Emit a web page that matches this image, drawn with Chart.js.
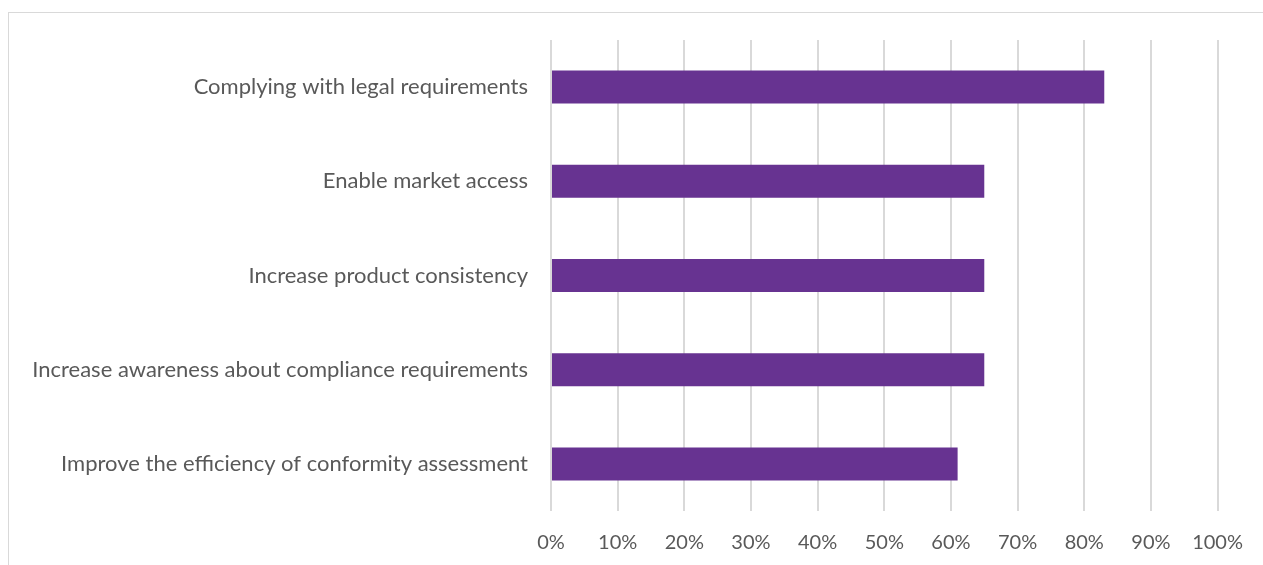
<!DOCTYPE html>
<html>
<head>
<meta charset="utf-8">
<script src="https://cdn.jsdelivr.net/npm/chart.js@4"></script>
<style>
  html, body { margin: 0; padding: 0; background: #fff; }
  #wrap { position: relative; width: 1263px; height: 565px; overflow: hidden; }
  #frame { position: absolute; left: 8px; top: 12px; width: 1300px; height: 600px;
           border-left: 1.5px solid #d9d9d9; border-top: 1.5px solid #d9d9d9; }
  canvas { position: absolute; left: 0; top: 0; }
</style>
</head>
<body>
<div id="wrap">
  <div id="frame"></div>
  <canvas id="chart" width="1263" height="565"></canvas>
</div>
<script>
const categories = [
  'Complying with legal requirements',
  'Enable market access',
  'Increase product consistency',
  'Increase awareness about compliance requirements',
  'Improve the efficiency of conformity assessment'
];
const shares = [0.83, 0.65, 0.65, 0.65, 0.61];

const textColor = '#595959';
const fontFamily = 'Lato, "Open Sans", sans-serif';

new Chart(document.getElementById('chart').getContext('2d'), {
  type: 'bar',
  data: {
    labels: categories,
    datasets: [{
      data: shares,
      backgroundColor: '#673391',
      categoryPercentage: 1,
      barPercentage: 0.35
    }]
  },
  options: {
    indexAxis: 'y',
    responsive: false,
    animation: false,
    plugins: { legend: { display: false }, tooltip: { enabled: false } },
    layout: { padding: { top: 40, right: 43, left: 0, bottom: 0 } },
    scales: {
      x: {
        min: 0,
        max: 1,
        ticks: {
          stepSize: 0.1,
          color: textColor,
          font: { family: fontFamily, size: 20 },
          padding: 20,
          callback: v => Math.round(v * 100) + '%'
        },
        grid: { color: '#d9d9d9', lineWidth: 2, drawTicks: false },
        border: { display: false },
        afterFit: s => { s.height = 54; }
      },
      y: {
        ticks: {
          color: textColor,
          font: { family: fontFamily, size: 22 },
          padding: 23
        },
        grid: { display: false, drawTicks: false },
        border: { display: false },
        afterFit: s => { s.width = 551; }
      }
    }
  }
});
</script>
</body>
</html>
